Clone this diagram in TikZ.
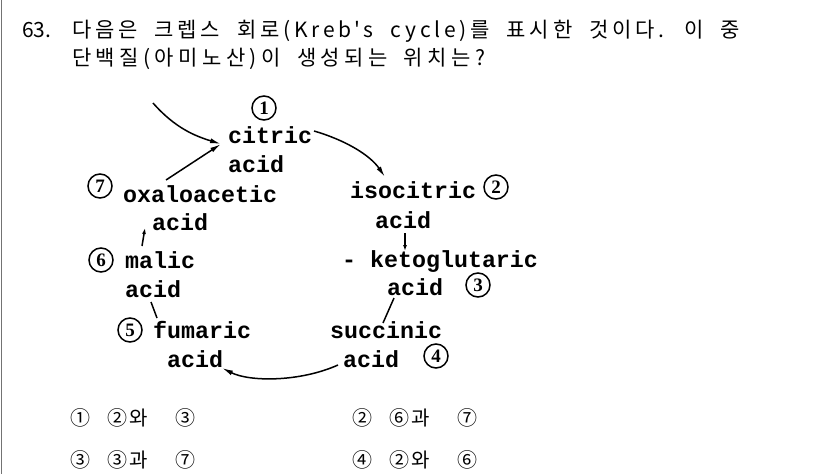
\documentclass[tikz,border=0pt]{standalone}
\usepackage{fontspec}
\usetikzlibrary{arrows.meta}
\newfontfamily\kr{Noto Sans CJK KR}[LetterSpace=18,WordSpace=2]
\newfontfamily\krb{Noto Sans CJK KR}[LetterSpace=21,WordSpace=1.8]
\newfontfamily\krn{Noto Sans CJK KR}
\newfontfamily\kro{Noto Sans CJK KR}[LetterSpace=12,WordSpace=2.5]
\newfontfamily\mono{Liberation Mono}
\newfontfamily\numf{Liberation Serif}
\begin{document}
\begin{tikzpicture}[x=1pt,y=-1pt,
  title/.style={anchor=base west,inner sep=0pt,font=\kr\fontsize{21}{21}\selectfont},
  chem/.style={anchor=base west,inner sep=0pt,font=\mono\bfseries\fontsize{23.3}{23}\selectfont},
  num/.style={circle,draw,line width=1.5pt,minimum size=24pt,inner sep=0pt,font=\numf\bfseries\fontsize{19}{19}\selectfont},
  opt/.style={anchor=base west,inner sep=0pt,font=\kro\fontsize{20}{20}\selectfont},
  conn/.style={line width=1.5pt},
  arr/.style={conn,-{Latex[length=11pt,width=5pt]}},
  sarr/.style={conn,-{Latex[length=6pt,width=4pt]}}]
\fill[white] (0,0) rectangle (826,474);
\useasboundingbox (0,0) rectangle (826,474);
\draw[line width=1.5pt,draw=black!55] (1.5,0) -- (1.5,474);
% title
\node[title,font=\krn\fontsize{21}{21}\selectfont] (q) at (22,37) {63.};
\node[title] (t1) at (72,37) {다음은 크렙스 회로(Kreb's cycle)를 표시한 것이다. 이 중};
\node[title,font=\krb\fontsize{21}{21}\selectfont] (t2) at (72,65) {단백질(아미노산)이 생성되는 위치는?};
% chemicals
\node[chem] (citric) at (228,143) {citric};
\node[chem] (acidA) at (228,172) {acid};
\node[chem] (oxalo) at (123,202) {oxaloacetic};
\node[chem] (acidB) at (152,230) {acid};
\node[chem] (malic) at (125,268) {malic};
\node[chem] (acidC) at (125,297) {acid};
\node[chem] (fumaric) at (153,338) {fumaric};
\node[chem] (acidD) at (167,367) {acid};
\node[chem] (isocitric) at (350,198) {isocitric};
\node[chem] (acidE) at (375,228) {acid};
\node[chem] (keto) at (342,267) {- ketoglutaric};
\node[chem] (acidF) at (387,295) {acid};
\node[chem] (succinic) at (330,338) {succinic};
\node[chem] (acidG) at (343,367) {acid};
% numbers
\node[num] (n1) at (264,108) {1};
\node[num] (n2) at (496,187) {2};
\node[num] (n3) at (478,285) {3};
\node[num] (n4) at (436,356) {4};
\node[num] (n5) at (130,330) {5};
\node[num] (n6) at (101,260) {6};
\node[num] (n7) at (100,186) {7};
% connector points
\coordinate (inS) at (153,103);
\coordinate (tip) at (221,144);
\coordinate (oxS) at (166,180);
\coordinate (ciS) at (314,131);
\coordinate (isE) at (385,177);
\coordinate (isS) at (405,233);
\coordinate (ktE) at (405,251);
\coordinate (kaS) at (394,298);
\coordinate (suE) at (383,323);
\coordinate (suS) at (338,365);
\coordinate (fuE) at (222,368);
\coordinate (fuS) at (157,318);
\coordinate (maE) at (151,302);
\coordinate (mlS) at (142,246);
\coordinate (oxE) at (145,228);
\draw[arr] (inS) .. controls (175,128) and (195,136) .. (tip);
\draw[arr] (oxS) -- (tip);
\draw[arr] (ciS) .. controls (345,140) and (370,155) .. (isE);
\draw[sarr] (isS) -- (ktE);
\draw[conn] (kaS) -- (suE);
\draw[arr] (suS) .. controls (300,382) and (250,382) .. (fuE);
\draw[conn] (fuS) -- (maE);
\draw[sarr] (mlS) -- (oxE);
% options
\node[opt] (o1) at (70,425) {① ②와 \hspace*{10pt}③};
\node[opt] (o2) at (352,425) {② ⑥과 \hspace*{10pt}⑦};
\node[opt] (o3) at (70,467) {③ ③과 \hspace*{10pt}⑦};
\node[opt] (o4) at (352,467) {④ ②와 \hspace*{10pt}⑥};
\end{tikzpicture}
\end{document}
